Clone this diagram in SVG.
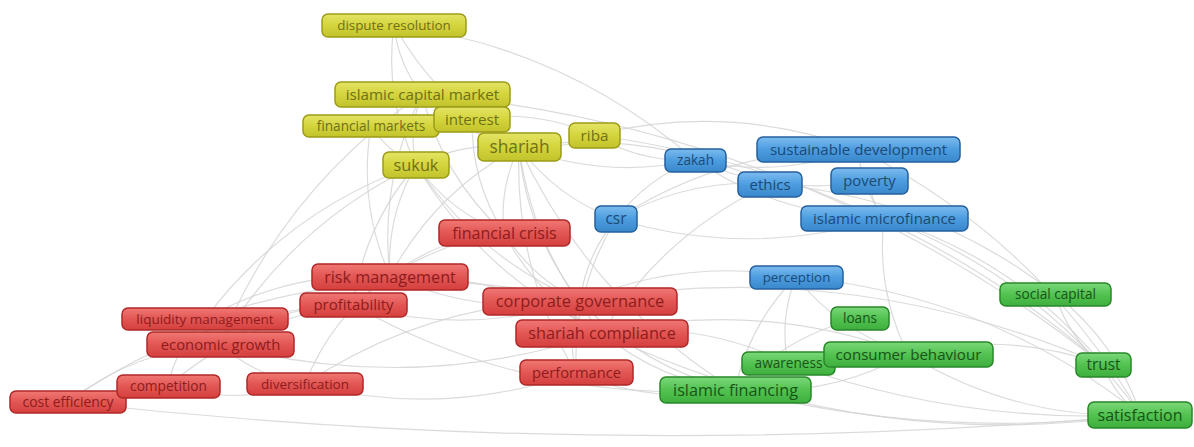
<svg xmlns="http://www.w3.org/2000/svg" width="1194" height="447" viewBox="0 0 1194 447">
<defs>
<linearGradient id="gy" x1="0" y1="0" x2="0" y2="1"><stop offset="0" stop-color="#e4e466"/><stop offset="0.5" stop-color="#d4d43c"/><stop offset="1" stop-color="#c2c22c"/></linearGradient>
<linearGradient id="gr" x1="0" y1="0" x2="0" y2="1"><stop offset="0" stop-color="#f07874"/><stop offset="0.5" stop-color="#e25654"/><stop offset="1" stop-color="#d4403e"/></linearGradient>
<linearGradient id="gb" x1="0" y1="0" x2="0" y2="1"><stop offset="0" stop-color="#7cbcee"/><stop offset="0.5" stop-color="#4c9ce0"/><stop offset="1" stop-color="#3a88cc"/></linearGradient>
<linearGradient id="gg" x1="0" y1="0" x2="0" y2="1"><stop offset="0" stop-color="#7cd87a"/><stop offset="0.5" stop-color="#52c250"/><stop offset="1" stop-color="#3eae3e"/></linearGradient>
</defs>
<style>
.e path{fill:none;stroke:#d2d2d2;stroke-width:1.2;stroke-opacity:0.8}
.n rect{rx:6;ry:6;stroke-width:1.5}
.n text{font-family:"Open Sans","DejaVu Sans",sans-serif;text-anchor:middle}
.y rect{fill:url(#gy);stroke:#9c9c18}
.y text{fill:#70701a}
.r rect{fill:url(#gr);stroke:#b02828}
.r text{fill:#8e1c1c}
.b rect{fill:url(#gb);stroke:#24609e}
.b text{fill:#1c4a74}
.g rect{fill:url(#gg);stroke:#288828}
.g text{fill:#185418}
</style>
<rect width="1194" height="447" fill="#ffffff"/>
<g id="connectors" class="e">
<path d="M394 25 Q384 98 416 165"/>
<path d="M394 25 Q438 105 519 147"/>
<path d="M394 25 Q398 64 422 94"/>
<path d="M394 25 Q565 47 695 160"/>
<path d="M422 94 Q408 129 416 165"/>
<path d="M422 94 Q463 135 519 147"/>
<path d="M422 94 Q442 176 504 233"/>
<path d="M422 94 Q379 180 390 276"/>
<path d="M371 126 Q388 152 416 165"/>
<path d="M371 126 Q358 204 390 276"/>
<path d="M472 119 Q535 109 594 135"/>
<path d="M472 119 Q471 181 504 233"/>
<path d="M519 147 Q558 152 594 135"/>
<path d="M519 147 Q465 141 416 165"/>
<path d="M519 147 Q499 188 504 233"/>
<path d="M519 147 Q526 233 580 301"/>
<path d="M519 147 Q533 252 602 333"/>
<path d="M519 147 Q435 192 390 276"/>
<path d="M519 147 Q605 180 695 160"/>
<path d="M519 147 Q650 128 770 184"/>
<path d="M519 147 Q557 198 616 219"/>
<path d="M519 147 Q514 269 576 373"/>
<path d="M519 147 Q591 301 735 390"/>
<path d="M594 135 Q641 163 695 160"/>
<path d="M594 135 Q728 102 858 149"/>
<path d="M594 135 Q883 174 1103 365"/>
<path d="M422 94 Q803 127 1103 365"/>
<path d="M416 165 Q450 212 504 233"/>
<path d="M416 165 Q386 217 390 276"/>
<path d="M416 165 Q364 226 353 305"/>
<path d="M416 165 Q291 225 220 344"/>
<path d="M416 165 Q478 258 580 301"/>
<path d="M416 165 Q484 277 602 333"/>
<path d="M416 165 Q287 210 205 319"/>
<path d="M422 94 Q283 189 220 344"/>
<path d="M695 160 Q778 179 858 149"/>
<path d="M695 160 Q779 197 869 181"/>
<path d="M695 160 Q781 217 884 218"/>
<path d="M695 160 Q647 178 616 219"/>
<path d="M770 184 Q688 178 616 219"/>
<path d="M770 184 Q664 233 602 333"/>
<path d="M858 149 Q861 187 884 218"/>
<path d="M869 181 Q871 202 884 218"/>
<path d="M858 149 Q727 148 616 219"/>
<path d="M884 218 Q1042 278 1141 415"/>
<path d="M884 218 Q1016 259 1103 365"/>
<path d="M884 218 Q876 290 908 354"/>
<path d="M616 219 Q586 255 580 301"/>
<path d="M616 219 Q573 290 576 373"/>
<path d="M616 219 Q750 259 884 218"/>
<path d="M504 233 Q441 237 390 276"/>
<path d="M504 233 Q532 278 580 301"/>
<path d="M504 233 Q418 246 353 305"/>
<path d="M504 233 Q538 298 602 333"/>
<path d="M390 276 Q481 317 580 301"/>
<path d="M390 276 Q291 270 205 319"/>
<path d="M390 276 Q331 317 305 384"/>
<path d="M390 276 Q505 273 602 333"/>
<path d="M353 305 Q281 305 220 344"/>
<path d="M353 305 Q248 318 168 386"/>
<path d="M353 305 Q196 311 68 402"/>
<path d="M353 305 Q467 337 580 301"/>
<path d="M353 305 Q531 405 735 390"/>
<path d="M205 319 Q176 347 168 386"/>
<path d="M205 319 Q390 254 580 301"/>
<path d="M220 344 Q135 350 68 402"/>
<path d="M220 344 Q256 377 305 384"/>
<path d="M220 344 Q413 396 602 333"/>
<path d="M168 386 Q237 406 305 384"/>
<path d="M68 402 Q604 462 1141 415"/>
<path d="M305 384 Q442 419 576 373"/>
<path d="M305 384 Q430 301 580 301"/>
<path d="M580 301 Q567 336 576 373"/>
<path d="M580 301 Q644 369 735 390"/>
<path d="M580 301 Q684 257 796 277"/>
<path d="M580 301 Q851 255 1103 365"/>
<path d="M602 333 Q660 381 735 390"/>
<path d="M602 333 Q758 298 908 354"/>
<path d="M602 333 Q859 455 1141 415"/>
<path d="M602 333 Q700 320 788 363"/>
<path d="M796 277 Q840 332 908 354"/>
<path d="M796 277 Q779 319 788 363"/>
<path d="M796 277 Q749 324 735 390"/>
<path d="M796 277 Q989 294 1141 415"/>
<path d="M860 318 Q787 335 735 390"/>
<path d="M735 390 Q827 398 908 354"/>
<path d="M908 354 Q1007 330 1103 365"/>
<path d="M908 354 Q1015 420 1141 415"/>
<path d="M1055 294 Q1068 337 1103 365"/>
<path d="M1055 294 Q1116 342 1141 415"/>
<path d="M1103 365 Q1115 396 1141 415"/>
<path d="M735 390 Q935 440 1141 415"/>
<path d="M788 363 Q959 424 1141 415"/>
<path d="M576 373 Q653 405 735 390"/>
<path d="M770 184 Q929 196 1055 294"/>
<path d="M858 149 Q1039 240 1141 415"/>
</g>
<g id="dispute-resolution" class="n y"><rect x="322" y="14" width="144" height="23"/><text x="394" y="30.2" font-size="13.4">dispute resolution</text></g>
<g id="islamic-capital-market" class="n y"><rect x="335" y="82" width="175" height="25"/><text x="422.5" y="99.8" font-size="15.2">islamic capital market</text></g>
<g id="financial-markets" class="n y"><rect x="303" y="115" width="136" height="22"/><text x="371" y="130.8" font-size="13.6">financial markets</text></g>
<g id="interest" class="n y"><rect x="434" y="107" width="76" height="25"/><text x="472" y="124.8" font-size="15.1">interest</text></g>
<g id="shariah" class="n y"><rect x="478" y="133" width="83" height="28"/><text x="519.5" y="153" font-size="17.3">shariah</text></g>
<g id="riba" class="n y"><rect x="569" y="123" width="51" height="25"/><text x="594.5" y="140.8" font-size="15.2">riba</text></g>
<g id="sukuk" class="n y"><rect x="383" y="152" width="66" height="26"/><text x="416" y="170.7" font-size="16.3">sukuk</text></g>
<g id="zakah" class="n b"><rect x="665" y="149" width="61" height="23"/><text x="695.5" y="165.3" font-size="13.6">zakah</text></g>
<g id="sustainable-development" class="n b"><rect x="757" y="137" width="203" height="25"/><text x="858.5" y="154.8" font-size="15.1">sustainable development</text></g>
<g id="ethics" class="n b"><rect x="738" y="172" width="64" height="25"/><text x="770" y="189.8" font-size="15">ethics</text></g>
<g id="poverty" class="n b"><rect x="831" y="168" width="77" height="26"/><text x="869.5" y="186.2" font-size="14.8">poverty</text></g>
<g id="csr" class="n b"><rect x="595" y="206" width="42" height="26"/><text x="616" y="224.3" font-size="15.5">csr</text></g>
<g id="islamic-microfinance" class="n b"><rect x="801" y="206" width="167" height="25"/><text x="884.5" y="223.8" font-size="15">islamic microfinance</text></g>
<g id="perception" class="n b"><rect x="750" y="266" width="93" height="23"/><text x="796.5" y="282.2" font-size="13.4">perception</text></g>
<g id="financial-crisis" class="n r"><rect x="439" y="220" width="131" height="26"/><text x="504.5" y="238.6" font-size="16">financial crisis</text></g>
<g id="risk-management" class="n r"><rect x="312" y="264" width="156" height="26"/><text x="390" y="282.7" font-size="16.2">risk management</text></g>
<g id="profitability" class="n r"><rect x="300" y="293" width="107" height="24"/><text x="353.5" y="310.3" font-size="15">profitability</text></g>
<g id="liquidity-management" class="n r"><rect x="122" y="308" width="166" height="22"/><text x="205" y="323.7" font-size="13.5">liquidity management</text></g>
<g id="economic-growth" class="n r"><rect x="147" y="332" width="147" height="25"/><text x="220.5" y="349.7" font-size="14.8">economic growth</text></g>
<g id="cost-efficiency" class="n r"><rect x="10" y="391" width="116" height="22"/><text x="68" y="406.9" font-size="13.9">cost efficiency</text></g>
<g id="competition" class="n r"><rect x="117" y="375" width="103" height="23"/><text x="168.5" y="391.3" font-size="13.7">competition</text></g>
<g id="diversification" class="n r"><rect x="247" y="373" width="116" height="22"/><text x="305" y="388.7" font-size="13.5">diversification</text></g>
<g id="corporate-governance" class="n r"><rect x="483" y="288" width="194" height="27"/><text x="580" y="307.3" font-size="16.4">corporate governance</text></g>
<g id="shariah-compliance" class="n r"><rect x="516" y="320" width="172" height="27"/><text x="602" y="339.3" font-size="16.3">shariah compliance</text></g>
<g id="performance" class="n r"><rect x="520" y="360" width="113" height="25"/><text x="576.5" y="377.7" font-size="14.7">performance</text></g>
<g id="social-capital" class="n g"><rect x="1000" y="283" width="111" height="23"/><text x="1055.5" y="299.3" font-size="13.6">social capital</text></g>
<g id="loans" class="n g"><rect x="831" y="307" width="58" height="23"/><text x="860" y="323.3" font-size="13.6">loans</text></g>
<g id="awareness" class="n g"><rect x="742" y="352" width="93" height="23"/><text x="788.5" y="368.3" font-size="13.6">awareness</text></g>
<g id="consumer-behaviour" class="n g"><rect x="824" y="342" width="169" height="25"/><text x="908.5" y="359.8" font-size="15.1">consumer behaviour</text></g>
<g id="islamic-financing" class="n g"><rect x="660" y="377" width="151" height="26"/><text x="735.5" y="395.7" font-size="16.2">islamic financing</text></g>
<g id="trust" class="n g"><rect x="1076" y="353" width="55" height="24"/><text x="1103.5" y="370.4" font-size="15.4">trust</text></g>
<g id="satisfaction" class="n g"><rect x="1088" y="402" width="104" height="26"/><text x="1140" y="420.6" font-size="16">satisfaction</text></g>
</svg>
